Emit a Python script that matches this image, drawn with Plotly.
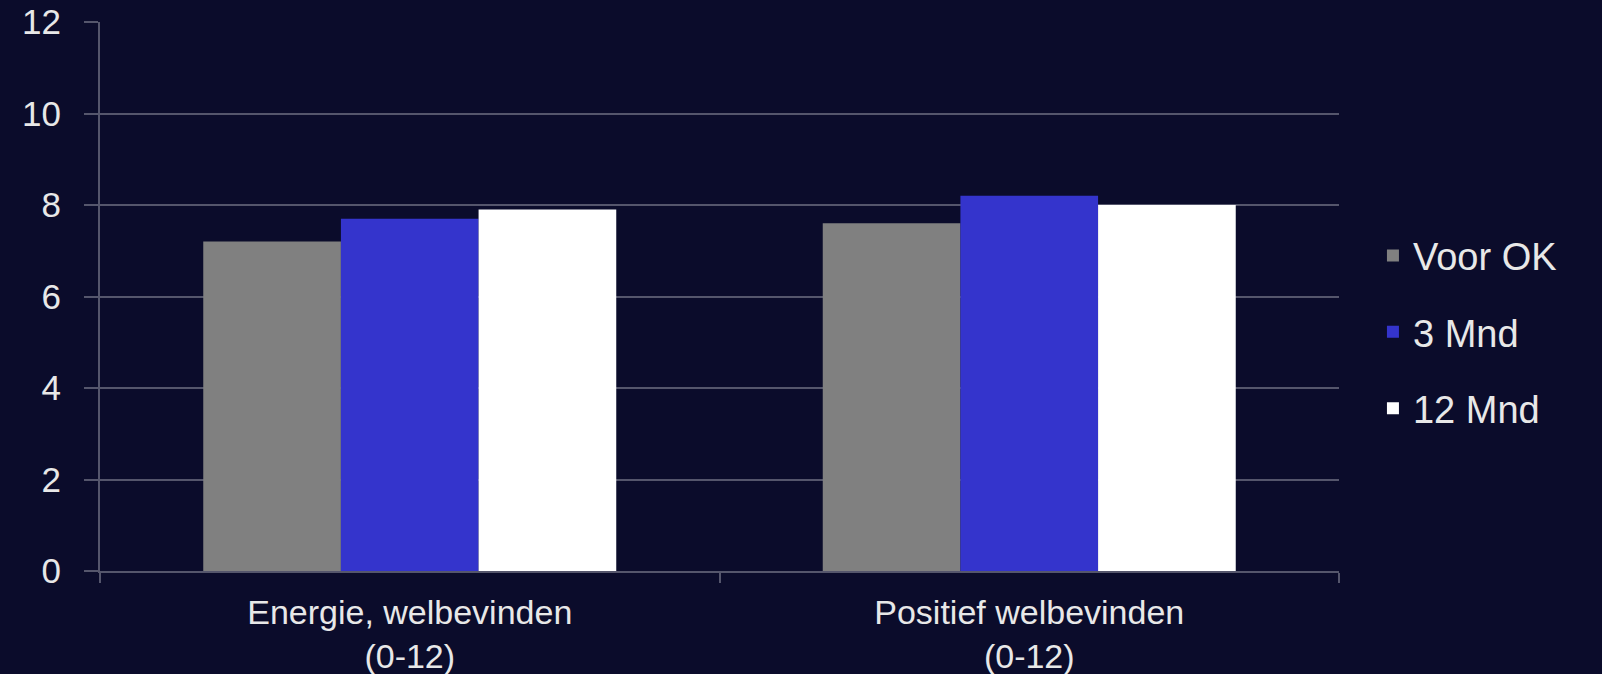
import plotly.graph_objects as go

categories = ["Energie, welbevinden<br>(0-12)", "Positief welbevinden<br>(0-12)"]
series_names = ["Voor OK", "3 Mnd", "12 Mnd"]
voor_ok = [7.2, 7.6]
mnd3 = [7.7, 8.2]
mnd12 = [7.9, 8.0]
y_ticks = [0, 2, 4, 6, 8, 10, 12]

colors = ["#808080", "#3434cc", "#ffffff"]
bg = "#0b0c2b"
txt = "#e8e8e8"
grid = "#55566c"

fig = go.Figure()
for name, vals, c in zip(series_names, [voor_ok, mnd3, mnd12], colors):
    fig.add_trace(go.Bar(x=categories, y=vals, name=name, marker_color=c,
                         marker_line_width=0, legendgroup=name))

fig.update_layout(
    width=1602, height=674,
    paper_bgcolor=bg, plot_bgcolor=bg,
    margin=dict(l=100, r=263, t=22, b=103, autoexpand=False),
    barmode="group", bargap=1/3, bargroupgap=0,
    font=dict(family="Liberation Sans, Arial, sans-serif", color=txt, size=34),
    legend=dict(x=1.0274, xanchor="left", y=0.435, yanchor="middle",
                font=dict(size=38, color=txt), tracegroupgap=24,
                itemwidth=30, bgcolor="rgba(0,0,0,0)"),
    showlegend=True,
)
fig.update_yaxes(range=[0, 12], tickvals=y_ticks, showgrid=True, gridcolor=grid,
                 gridwidth=2, showline=True, linecolor=grid, linewidth=2,
                 ticks="outside", ticklen=14, tickcolor=grid, tickwidth=2,
                 ticklabelstandoff=16, zeroline=False, automargin=False,
                 tickfont=dict(size=35, color=txt))
fig.update_xaxes(showline=True, linecolor=grid, linewidth=2,
                 ticks="outside", tickson="boundaries", ticklen=10,
                 tickcolor=grid, tickwidth=2, showgrid=False, automargin=False,
                 ticklabelstandoff=10,
                 tickfont=dict(size=34, color=txt))

fig.write_html("out.html")
